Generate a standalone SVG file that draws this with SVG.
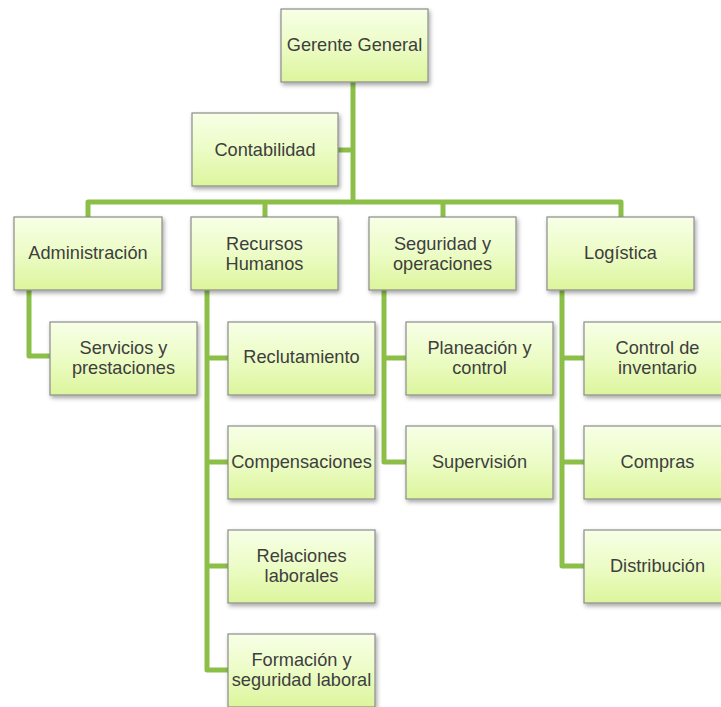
<svg xmlns="http://www.w3.org/2000/svg" width="721" height="707" viewBox="0 0 721 707">
<style>
.box{fill:url(#g);stroke:#8c8c8c;stroke-width:1.2;filter:url(#sh)}
.t{font-family:"Liberation Sans",Arial,sans-serif;font-size:18.2px;fill:#3e3e3e;text-anchor:middle}
.c{fill:none;stroke:#8cbf48;stroke-width:5;stroke-linejoin:round;stroke-linecap:butt}
</style>
<defs>
<linearGradient id="g" x1="0" y1="0" x2="0" y2="1">
<stop offset="0" stop-color="#f7ffe6"/>
<stop offset="0.5" stop-color="#ecfcc6"/>
<stop offset="1" stop-color="#dcf59c"/>
</linearGradient>
<filter id="sh" x="-10%" y="-10%" width="125%" height="130%">
<feDropShadow dx="1.5" dy="2.5" stdDeviation="2" flood-color="#000" flood-opacity="0.35"/>
</filter>
</defs>
<rect width="721" height="707" fill="#fff"/>
<g id="connectors">
<path class="c" d="M353 82V202"/>
<path class="c" d="M338 150H353"/>
<path class="c" d="M88 217V202H621V217"/>
<path class="c" d="M265 202V217"/>
<path class="c" d="M443 202V217"/>
<path class="c" d="M29 290V356H50"/>
<path class="c" d="M207 290V670H228"/>
<path class="c" d="M207 358H228"/>
<path class="c" d="M207 462H228"/>
<path class="c" d="M207 566H228"/>
<path class="c" d="M384 290V462H406"/>
<path class="c" d="M384 358H406"/>
<path class="c" d="M562 290V566H584"/>
<path class="c" d="M562 358H584"/>
<path class="c" d="M562 462H584"/>
</g>
<g id="gerente"><rect class="box" x="281" y="9" width="147" height="73"/><text class="t" x="354.5" y="51">Gerente General</text></g>
<g id="contabilidad"><rect class="box" x="192" y="113" width="146" height="73"/><text class="t" x="265" y="156">Contabilidad</text></g>
<g id="administracion"><rect class="box" x="14" y="217" width="148" height="73"/><text class="t" x="88" y="259">Administración</text></g>
<g id="rrhh"><rect class="box" x="191" y="217" width="147" height="73"/><text class="t" x="264.5" y="250">Recursos</text><text class="t" x="264.5" y="270">Humanos</text></g>
<g id="seguridad"><rect class="box" x="369" y="217" width="147" height="73"/><text class="t" x="442.5" y="250">Seguridad y</text><text class="t" x="442.5" y="270">operaciones</text></g>
<g id="logistica"><rect class="box" x="547" y="217" width="147" height="73"/><text class="t" x="620.5" y="259">Logística</text></g>
<g id="servicios"><rect class="box" x="50" y="322" width="147" height="73"/><text class="t" x="123.5" y="354">Servicios y</text><text class="t" x="123.5" y="374">prestaciones</text></g>
<g id="reclutamiento"><rect class="box" x="228" y="322" width="147" height="73"/><text class="t" x="301.5" y="363">Reclutamiento</text></g>
<g id="compensaciones"><rect class="box" x="228" y="426" width="147" height="73"/><text class="t" x="301.5" y="468">Compensaciones</text></g>
<g id="relaciones"><rect class="box" x="228" y="530" width="147" height="73"/><text class="t" x="301.5" y="562">Relaciones</text><text class="t" x="301.5" y="582">laborales</text></g>
<g id="formacion"><rect class="box" x="228" y="634" width="147" height="73"/><text class="t" x="301.5" y="666">Formación y</text><text class="t" x="301.5" y="686">seguridad laboral</text></g>
<g id="planeacion"><rect class="box" x="406" y="322" width="147" height="73"/><text class="t" x="479.5" y="354">Planeación y</text><text class="t" x="479.5" y="374">control</text></g>
<g id="supervision"><rect class="box" x="406" y="426" width="147" height="73"/><text class="t" x="479.5" y="468">Supervisión</text></g>
<g id="control"><rect class="box" x="584" y="322" width="147" height="73"/><text class="t" x="657.5" y="354">Control de</text><text class="t" x="657.5" y="374">inventario</text></g>
<g id="compras"><rect class="box" x="584" y="426" width="147" height="73"/><text class="t" x="657.5" y="468">Compras</text></g>
<g id="distribucion"><rect class="box" x="584" y="530" width="147" height="73"/><text class="t" x="657.5" y="572">Distribución</text></g>
</svg>
